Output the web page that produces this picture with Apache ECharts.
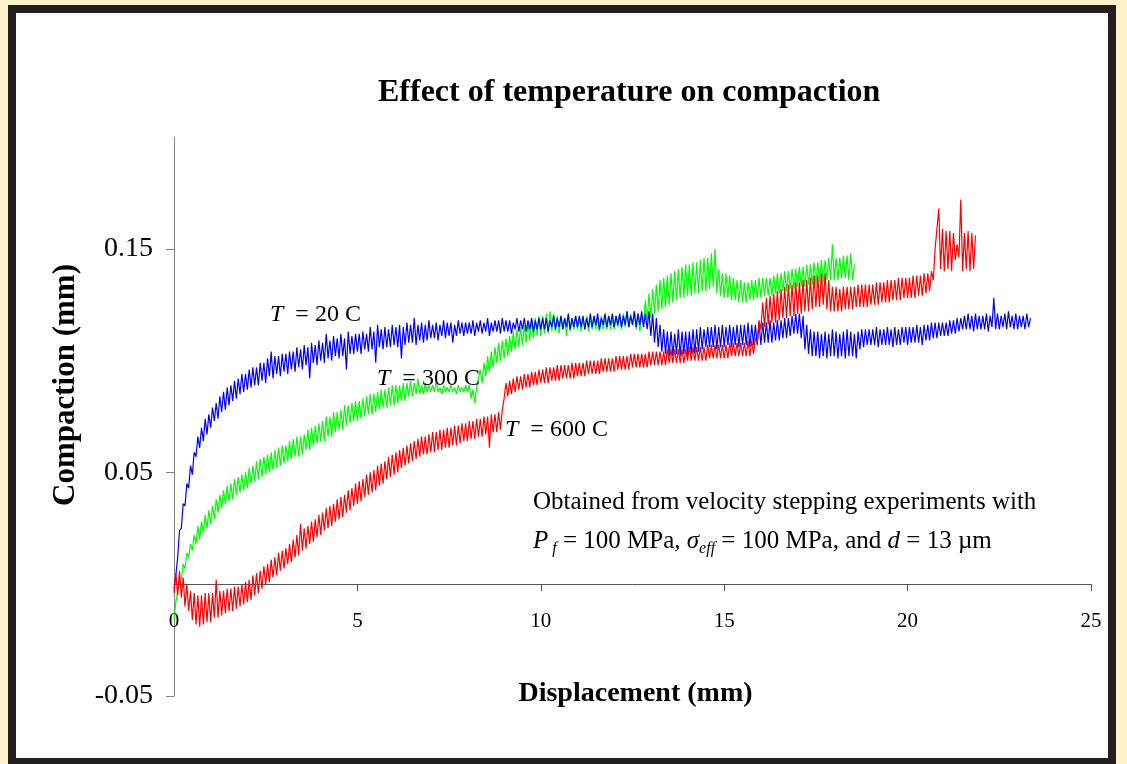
<!DOCTYPE html>
<html>
<head>
<meta charset="utf-8">
<script src="https://cdn.jsdelivr.net/npm/echarts@6/dist/echarts.min.js"></script>
<style>
  html, body { margin: 0; padding: 0; background: #FFF2CB; }
  #frame { position: absolute; left: 8px; top: 5px; width: 1108px; height: 761px;
           box-sizing: border-box; border: 8px solid #231F20; background: #ffffff; }
  #chart { position: absolute; left: 0; top: 0; width: 1127px; height: 764px; }
</style>
</head>
<body>
<div id="frame"></div>
<div id="chart"></div>
<script>
// ---- Data ----
// Each noisy trace is given as its lower and upper extremes per 0.1 mm of displacement.
const xStep = 0.1; // displacement sampling interval (mm)

const low20C = [-0.002,0.012,0.025,0.035,0.043,0.049,0.057,0.061,0.064,0.067,
0.070,0.073,0.074,0.077,0.078,0.080,0.082,0.083,0.085,0.086,
0.087,0.088,0.089,0.089,0.091,0.090,0.093,0.092,0.094,0.093,
0.095,0.094,0.096,0.095,0.097,0.096,0.098,0.092,0.099,0.098,
0.100,0.099,0.101,0.100,0.102,0.101,0.102,0.096,0.103,0.103,
0.104,0.103,0.105,0.104,0.105,0.099,0.106,0.105,0.106,0.106,
0.107,0.106,0.101,0.107,0.108,0.108,0.107,0.109,0.108,0.109,
0.110,0.110,0.109,0.111,0.110,0.111,0.108,0.111,0.112,0.111,
0.112,0.112,0.111,0.113,0.112,0.113,0.111,0.113,0.113,0.112,
0.113,0.113,0.112,0.114,0.113,0.114,0.113,0.114,0.113,0.114,
0.114,0.114,0.113,0.115,0.114,0.115,0.114,0.115,0.114,0.115,
0.115,0.115,0.114,0.115,0.115,0.116,0.114,0.116,0.115,0.116,
0.115,0.116,0.115,0.116,0.115,0.116,0.115,0.116,0.115,0.114,
0.111,0.108,0.106,0.104,0.103,0.102,0.102,0.103,0.102,0.103,
0.102,0.103,0.103,0.104,0.105,0.106,0.106,0.106,0.105,0.106,
0.106,0.107,0.106,0.107,0.106,0.107,0.107,0.106,0.107,0.107,
0.107,0.108,0.108,0.108,0.109,0.109,0.110,0.110,0.111,0.112,
0.112,0.110,0.105,0.103,0.102,0.102,0.101,0.102,0.101,0.102,
0.102,0.101,0.102,0.101,0.102,0.102,0.101,0.105,0.106,0.107,
0.107,0.107,0.106,0.107,0.107,0.107,0.106,0.107,0.107,0.108,
0.107,0.108,0.108,0.108,0.107,0.109,0.109,0.110,0.110,0.111,
0.111,0.111,0.112,0.112,0.113,0.114,0.114,0.114,0.113,0.114,
0.114,0.114,0.113,0.115,0.114,0.114,0.115,0.114,0.115,0.114,
0.114,0.115,0.114,0.115];
const high20C = [0.004,0.024,0.036,0.045,0.053,0.059,0.066,0.070,0.074,0.076,
0.079,0.081,0.084,0.086,0.088,0.089,0.091,0.092,0.094,0.094,
0.096,0.097,0.097,0.099,0.099,0.101,0.104,0.102,0.102,0.103,
0.103,0.104,0.104,0.106,0.105,0.107,0.106,0.108,0.107,0.109,
0.108,0.112,0.109,0.111,0.110,0.112,0.110,0.113,0.111,0.112,
0.112,0.113,0.112,0.115,0.113,0.116,0.114,0.115,0.114,0.116,
0.115,0.116,0.115,0.117,0.116,0.119,0.116,0.117,0.116,0.118,
0.116,0.117,0.116,0.118,0.117,0.117,0.116,0.118,0.117,0.117,
0.117,0.118,0.117,0.118,0.117,0.119,0.117,0.118,0.118,0.119,
0.118,0.118,0.117,0.119,0.118,0.119,0.118,0.119,0.118,0.119,
0.119,0.119,0.118,0.120,0.119,0.120,0.119,0.121,0.119,0.120,
0.120,0.120,0.119,0.121,0.120,0.121,0.119,0.121,0.120,0.121,
0.120,0.121,0.120,0.122,0.120,0.122,0.121,0.122,0.121,0.122,
0.121,0.119,0.116,0.114,0.113,0.113,0.112,0.114,0.113,0.113,
0.113,0.114,0.114,0.115,0.114,0.115,0.115,0.116,0.115,0.116,
0.115,0.116,0.115,0.116,0.116,0.116,0.117,0.116,0.116,0.117,
0.117,0.117,0.118,0.117,0.118,0.118,0.119,0.119,0.120,0.121,
0.121,0.120,0.116,0.114,0.113,0.113,0.112,0.113,0.112,0.114,
0.113,0.112,0.113,0.114,0.113,0.112,0.113,0.114,0.114,0.114,
0.114,0.115,0.114,0.114,0.115,0.114,0.115,0.114,0.115,0.115,
0.115,0.115,0.116,0.115,0.116,0.116,0.117,0.117,0.117,0.117,
0.117,0.118,0.118,0.119,0.119,0.120,0.121,0.120,0.121,0.120,
0.120,0.121,0.120,0.128,0.121,0.120,0.121,0.122,0.120,0.121,
0.120,0.120,0.121,0.119];

const low300C = [-0.016,-0.008,0.002,0.007,0.012,0.015,0.018,0.020,0.023,0.025,
0.027,0.029,0.032,0.034,0.036,0.037,0.038,0.040,0.041,0.042,
0.043,0.045,0.046,0.047,0.048,0.049,0.050,0.051,0.052,0.053,
0.054,0.055,0.056,0.057,0.057,0.058,0.060,0.060,0.062,0.063,
0.064,0.064,0.066,0.066,0.068,0.069,0.069,0.071,0.072,0.073,
0.073,0.074,0.075,0.076,0.076,0.077,0.078,0.079,0.079,0.080,
0.080,0.081,0.082,0.082,0.084,0.084,0.085,0.085,0.085,0.086,
0.086,0.086,0.086,0.085,0.086,0.086,0.086,0.085,0.086,0.086,
0.086,0.083,0.081,0.088,0.090,0.093,0.095,0.097,0.099,0.100,
0.101,0.102,0.104,0.105,0.106,0.107,0.108,0.109,0.110,0.111,
0.111,0.112,0.112,0.113,0.113,0.112,0.114,0.111,0.113,0.114,
0.114,0.113,0.114,0.113,0.114,0.114,0.113,0.114,0.114,0.114,
0.114,0.115,0.114,0.115,0.115,0.116,0.114,0.113,0.116,0.118,
0.119,0.121,0.122,0.123,0.124,0.125,0.126,0.127,0.128,0.128,
0.129,0.129,0.130,0.130,0.131,0.131,0.132,0.133,0.130,0.129,
0.128,0.128,0.127,0.127,0.126,0.126,0.126,0.127,0.127,0.128,
0.128,0.129,0.129,0.129,0.130,0.130,0.131,0.131,0.132,0.132,
0.133,0.133,0.133,0.134,0.134,0.134,0.135,0.135,0.136,0.136,
0.136,0.136,0.137,0.137,0.136,0.136];
const high300C = [-0.008,0.001,0.009,0.014,0.018,0.022,0.026,0.028,0.031,0.033,
0.035,0.038,0.040,0.042,0.044,0.045,0.047,0.048,0.049,0.050,
0.052,0.053,0.055,0.056,0.057,0.058,0.059,0.060,0.061,0.062,
0.062,0.064,0.065,0.066,0.066,0.067,0.069,0.070,0.071,0.072,
0.073,0.075,0.075,0.077,0.077,0.078,0.080,0.080,0.081,0.082,
0.082,0.083,0.084,0.085,0.085,0.086,0.087,0.087,0.088,0.089,
0.089,0.089,0.090,0.090,0.091,0.090,0.092,0.089,0.090,0.089,
0.089,0.091,0.088,0.089,0.088,0.089,0.088,0.089,0.088,0.089,
0.089,0.087,0.088,0.096,0.099,0.102,0.104,0.106,0.108,0.109,
0.110,0.111,0.113,0.114,0.115,0.116,0.117,0.118,0.119,0.120,
0.120,0.121,0.122,0.121,0.120,0.120,0.119,0.120,0.119,0.120,
0.119,0.119,0.120,0.119,0.120,0.119,0.120,0.119,0.120,0.119,
0.120,0.120,0.121,0.122,0.121,0.122,0.121,0.120,0.127,0.130,
0.132,0.134,0.136,0.137,0.138,0.139,0.140,0.141,0.142,0.143,
0.143,0.144,0.144,0.145,0.146,0.146,0.148,0.150,0.141,0.139,
0.139,0.138,0.137,0.136,0.136,0.135,0.135,0.136,0.136,0.137,
0.137,0.137,0.137,0.138,0.139,0.139,0.140,0.140,0.141,0.141,
0.142,0.142,0.143,0.143,0.144,0.144,0.145,0.145,0.146,0.152,
0.146,0.146,0.147,0.147,0.148,0.143];

const low600C = [-0.004,-0.005,-0.006,-0.010,-0.012,-0.016,-0.018,-0.019,-0.018,-0.017,
-0.017,-0.015,-0.015,-0.014,-0.013,-0.012,-0.012,-0.011,-0.010,-0.009,
-0.008,-0.007,-0.005,-0.004,-0.002,0.000,0.001,0.003,0.004,0.006,
0.007,0.009,0.010,0.012,0.013,0.015,0.016,0.018,0.019,0.021,
0.022,0.024,0.025,0.026,0.028,0.029,0.030,0.032,0.033,0.035,
0.036,0.037,0.039,0.040,0.041,0.042,0.044,0.045,0.047,0.048,
0.049,0.050,0.052,0.053,0.054,0.055,0.056,0.057,0.058,0.058,
0.059,0.059,0.060,0.060,0.061,0.061,0.062,0.062,0.063,0.064,
0.064,0.065,0.065,0.066,0.066,0.067,0.061,0.068,0.068,0.069,
0.083,0.084,0.085,0.086,0.087,0.087,0.088,0.088,0.089,0.089,
0.090,0.090,0.090,0.091,0.091,0.091,0.092,0.092,0.092,0.092,
0.093,0.093,0.093,0.094,0.094,0.094,0.094,0.095,0.095,0.095,
0.095,0.096,0.096,0.096,0.096,0.097,0.097,0.097,0.097,0.097,
0.098,0.098,0.098,0.098,0.098,0.099,0.099,0.099,0.099,0.099,
0.100,0.100,0.100,0.100,0.100,0.100,0.101,0.101,0.101,0.101,
0.101,0.101,0.102,0.102,0.102,0.102,0.102,0.102,0.103,0.108,
0.114,0.115,0.116,0.117,0.117,0.118,0.119,0.119,0.120,0.120,
0.121,0.121,0.122,0.122,0.123,0.124,0.124,0.125,0.123,0.122,
0.122,0.122,0.122,0.123,0.123,0.123,0.124,0.124,0.124,0.124,
0.125,0.125,0.125,0.126,0.126,0.126,0.127,0.127,0.127,0.128,
0.128,0.128,0.128,0.129,0.129,0.130,0.131,0.136,0.150,0.141,
0.140,0.141,0.140,0.145,0.146,0.140,0.141,0.140,0.141];
const high600C = [0.005,0.006,0.003,0.000,-0.003,-0.004,-0.005,-0.005,-0.004,-0.004,
-0.004,0.002,-0.003,-0.003,-0.002,-0.002,-0.001,-0.001,0.000,0.001,
0.002,0.004,0.005,0.006,0.008,0.009,0.011,0.012,0.014,0.015,
0.016,0.018,0.020,0.022,0.027,0.025,0.026,0.028,0.029,0.031,
0.032,0.034,0.035,0.036,0.038,0.039,0.040,0.042,0.043,0.045,
0.046,0.047,0.049,0.050,0.051,0.053,0.054,0.055,0.057,0.058,
0.059,0.060,0.061,0.062,0.063,0.064,0.065,0.066,0.066,0.067,
0.068,0.068,0.069,0.069,0.070,0.070,0.071,0.071,0.072,0.072,
0.073,0.073,0.074,0.074,0.075,0.075,0.076,0.076,0.077,0.078,
0.090,0.091,0.092,0.093,0.093,0.094,0.094,0.095,0.095,0.096,
0.096,0.097,0.097,0.097,0.098,0.098,0.098,0.098,0.099,0.099,
0.099,0.099,0.100,0.100,0.100,0.100,0.101,0.101,0.101,0.101,
0.102,0.102,0.102,0.102,0.103,0.103,0.103,0.103,0.103,0.104,
0.104,0.104,0.104,0.104,0.105,0.105,0.105,0.105,0.105,0.105,
0.106,0.106,0.106,0.106,0.106,0.107,0.107,0.107,0.107,0.107,
0.107,0.108,0.108,0.108,0.108,0.108,0.109,0.109,0.110,0.118,
0.126,0.128,0.129,0.130,0.131,0.132,0.133,0.134,0.134,0.135,
0.135,0.136,0.136,0.137,0.138,0.138,0.139,0.139,0.136,0.133,
0.133,0.132,0.133,0.133,0.133,0.133,0.134,0.134,0.134,0.134,
0.134,0.135,0.135,0.135,0.136,0.136,0.136,0.137,0.137,0.137,
0.137,0.138,0.138,0.138,0.139,0.139,0.140,0.150,0.168,0.159,
0.158,0.158,0.157,0.152,0.172,0.157,0.158,0.157,0.156];

const xTickValues = [0, 5, 10, 15, 20, 25];
const yTickValues = [-0.05, 0.05, 0.15];
const yTickLabels = ['-0.05', '0.05', '0.15'];
const seriesNames = ['T = 300 C', 'T = 20 C', 'T = 600 C'];

// ---- Build: trace goes low -> high within each 0.1 mm sample ----
function toTrace(lows, highs) {
  const pts = [];
  lows.forEach((lo, i) => {
    const x = i * xStep;
    pts.push([+x.toFixed(3), lo]);
    pts.push([+(x + xStep / 2).toFixed(3), highs[i]]);
  });
  return pts;
}

const SERIF = '"Liberation Serif", "Times New Roman", serif';
const chart = echarts.init(document.getElementById('chart'), null, { renderer: 'canvas' });

const lineSeries = (name, lows, highs, color) => ({
  name, type: 'line', data: toTrace(lows, highs), showSymbol: false, symbol: 'none',
  lineStyle: { color, width: 1.2 }, itemStyle: { color }, animation: false, z: 3
});

chart.setOption({
  backgroundColor: 'transparent',
  animation: false,
  title: {
    text: 'Effect of temperature on compaction', left: 378, top: 77, padding: 0,
    textStyle: { fontFamily: SERIF, fontSize: 32, fontWeight: 'bold', color: '#000' }
  },
  grid: { left: 174, right: 36, top: 137, bottom: 68, containLabel: false, outerBoundsMode: 'none' },
  xAxis: {
    type: 'value', min: 0, max: 25, interval: 5,
    axisLine: { onZero: true, lineStyle: { color: '#555555', width: 1 } },
    axisTick: { show: true, inside: false, length: 7, lineStyle: { color: '#555555' } },
    axisLabel: { show: false },
    splitLine: { show: false }
  },
  yAxis: {
    type: 'value', min: -0.05, max: 0.2,
    axisLine: { show: true, lineStyle: { color: '#808080', width: 1 } },
    axisTick: { show: true, inside: false, length: 8, customValues: yTickValues, lineStyle: { color: '#808080' } },
    axisLabel: {
      fontFamily: SERIF, fontSize: 28, color: '#000', margin: 21, customValues: yTickValues,
      formatter: v => { const i = yTickValues.findIndex(t => Math.abs(t - v) < 1e-9); return i >= 0 ? yTickLabels[i] : ''; }
    },
    splitLine: { show: false }
  },
  series: [
    lineSeries(seriesNames[0], low300C, high300C, '#00FF00'),
    lineSeries(seriesNames[1], low20C, high20C, '#0000FF'),
    lineSeries(seriesNames[2], low600C, high600C, '#FF0000')
  ]
});

// x tick labels placed under the axis line (which sits on y = 0) via the chart's own scale
const xLabelGraphics = xTickValues.map(v => {
  const p = chart.convertToPixel({ xAxisIndex: 0, yAxisIndex: 0 }, [v, 0]);
  return { type: 'text', x: p[0], y: p[1] + 27, z: 10, style: {
    text: String(v), align: 'center', verticalAlign: 'top', fill: '#000',
    fontFamily: SERIF, fontSize: 21 } };
});
const gridCenterX = chart.convertToPixel({ xAxisIndex: 0, yAxisIndex: 0 }, [12.5, 0])[0];

const ital = { fontStyle: 'italic', fontFamily: SERIF, fontSize: 24 };
chart.setOption({
  graphic: [
    ...xLabelGraphics,
    { type: 'text', x: gridCenterX + 3, y: 694, z: 10, style: {
        text: 'Displacement (mm)', align: 'center', verticalAlign: 'middle', fill: '#000',
        fontFamily: SERIF, fontSize: 28, fontWeight: 'bold' } },
    { type: 'text', x: 66, y: 385, rotation: Math.PI / 2, z: 10, style: {
        text: 'Compaction (mm)', align: 'center', verticalAlign: 'middle', fill: '#000',
        fontFamily: SERIF, fontSize: 31, fontWeight: 'bold' } },
    { type: 'text', left: 270, top: 303, z: 10, style: {
        text: '{i|T}  = 20 C', fill: '#000', fontFamily: SERIF, fontSize: 24, rich: { i: ital } } },
    { type: 'text', left: 377, top: 367, z: 10, style: {
        text: '{i|T}  = 300 C', fill: '#000', fontFamily: SERIF, fontSize: 24, rich: { i: ital } } },
    { type: 'text', left: 505, top: 418, z: 10, style: {
        text: '{i|T}  = 600 C', fill: '#000', fontFamily: SERIF, fontSize: 24, rich: { i: ital } } },
    { type: 'text', left: 533, top: 490, z: 10, style: {
        text: 'Obtained from velocity stepping experiments with', fill: '#000',
        fontFamily: SERIF, fontSize: 25 } },
    { type: 'text', left: 533, top: 525, z: 10, style: {
        text: '{i|P}{sub| f} = 100 MPa, {i|σ}{sub|eff} = 100 MPa, and {i|d} = 13 µm', fill: '#000',
        fontFamily: SERIF, fontSize: 25, lineHeight: 32,
        rich: {
          i: { fontStyle: 'italic', fontFamily: SERIF, fontSize: 25, lineHeight: 32 },
          sub: { fontStyle: 'italic', fontFamily: SERIF, fontSize: 16, lineHeight: 32, verticalAlign: 'bottom' }
        } } }
  ]
});
</script>
</body>
</html>
